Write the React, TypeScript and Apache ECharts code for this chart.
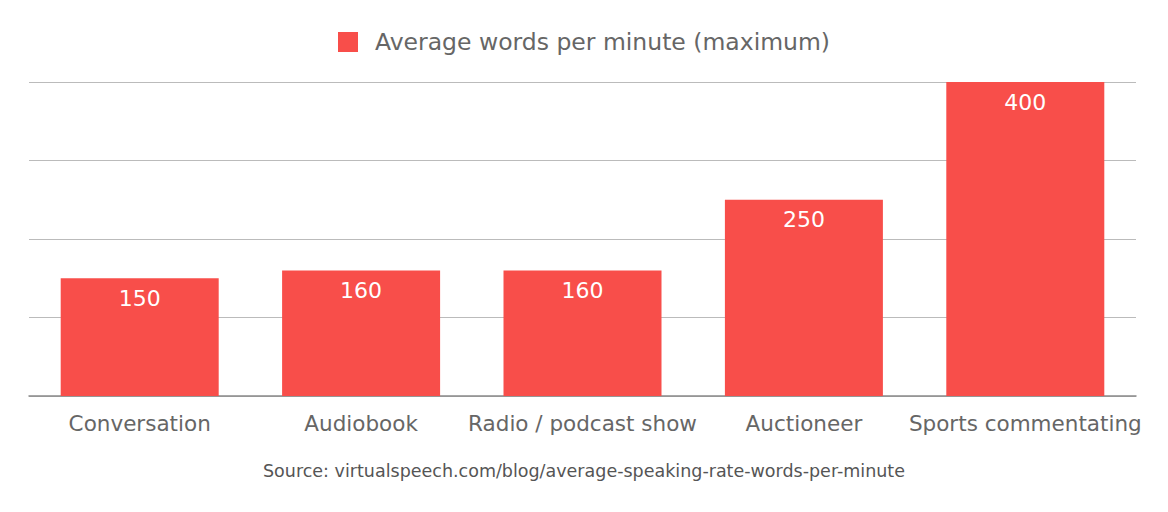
import React, { useEffect, useRef } from "react";
import * as echarts from "echarts";

const categories = ["Conversation", "Audiobook", "Radio / podcast show", "Auctioneer", "Sports commentating"];
const values = [150, 160, 160, 250, 400];
const seriesName = "Average words per minute (maximum)";
const sourceText = "Source: virtualspeech.com/blog/average-speaking-rate-words-per-minute";

const FONT = "'DejaVu Sans', 'Open Sans', sans-serif";

export default function App() {
  const ref = useRef<HTMLDivElement>(null);
  useEffect(() => {
    if (!ref.current) return;
    const chart = echarts.init(ref.current, undefined, { renderer: "svg" });
    chart.setOption({
      animation: false,
      textStyle: { fontFamily: FONT },
      legend: {
        top: 25,
        left: "center",
        icon: "rect",
        itemWidth: 20,
        itemHeight: 20,
        textStyle: { fontSize: 23.5, color: "#666", fontFamily: FONT, padding: [0, 0, 0, 12] },
        data: [seriesName],
      },
      grid: { left: 29, right: 32, top: 82, bottom: 116, containLabel: false },
      xAxis: {
        type: "category",
        data: categories,
        axisLine: { lineStyle: { color: "#8a8a8a", width: 1.5 } },
        axisTick: { show: false },
        axisLabel: { fontSize: 21.5, color: "#666", margin: 16, fontFamily: FONT, interval: 0 },
      },
      yAxis: {
        type: "value",
        min: 0,
        max: 400,
        interval: 100,
        axisLabel: { show: false },
        axisLine: { show: false },
        axisTick: { show: false },
        splitLine: { lineStyle: { color: "#bbbbbb", width: 1 } },
      },
      series: [
        {
          name: seriesName,
          type: "bar",
          data: values,
          barWidth: 158,
          itemStyle: { color: "#F84E4A" },
          label: {
            show: true,
            position: "insideTop",
            distance: 9,
            color: "#fff",
            fontSize: 22,
            fontFamily: FONT,
          },
        },
      ],
      graphic: [
        {
          type: "text",
          left: "center",
          top: 462,
          style: { text: sourceText, fontSize: 17.5, fill: "#555", fontFamily: FONT },
        },
      ],
    });
    return () => chart.dispose();
  }, []);
  return <div ref={ref} style={{ position: "fixed", left: 0, top: 0, width: 1168, height: 512, background: "#fff" }} />;
}
